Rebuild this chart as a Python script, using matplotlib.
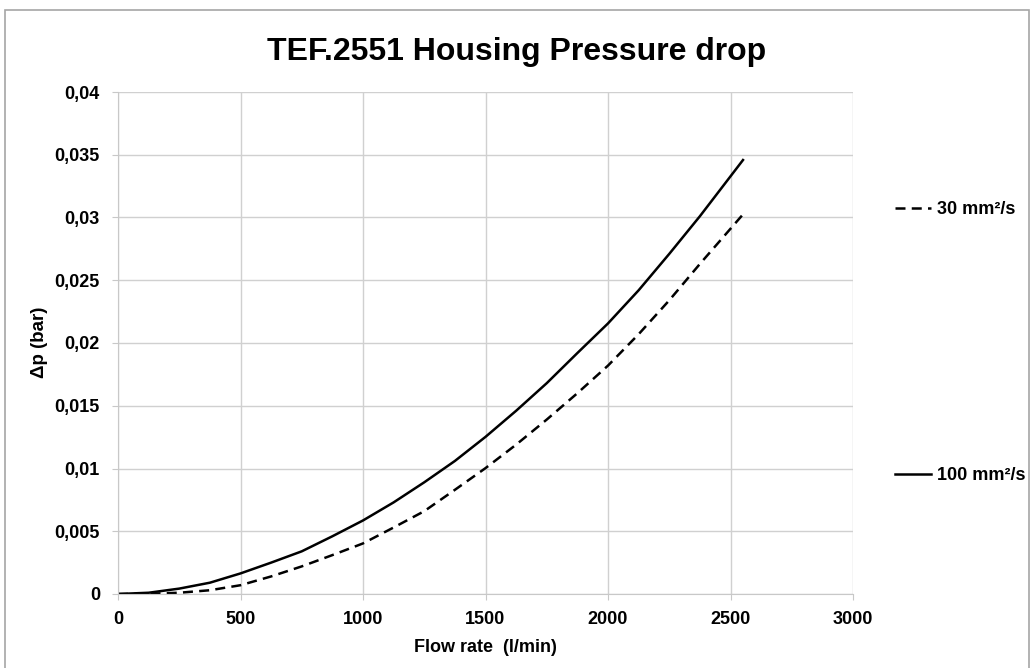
import matplotlib
matplotlib.use('Agg')
import matplotlib.pyplot as plt
from matplotlib.ticker import FuncFormatter, MultipleLocator
from matplotlib.patches import Rectangle

# data
flow = [0, 125, 250, 375, 500, 625, 750, 875, 1000, 1125, 1250, 1375, 1500,
        1625, 1750, 1875, 2000, 2125, 2250, 2375, 2551]
dp_100 = [0, 0.0001, 0.00043, 0.0009, 0.00164, 0.0025, 0.0034, 0.0046, 0.00586, 0.0073,
          0.0089, 0.0106, 0.01252, 0.0146, 0.0168, 0.0192, 0.02156, 0.0242, 0.0271,
          0.0301, 0.03458]
dp_30 = [0, 0.00002, 0.0001, 0.0003, 0.0007, 0.0014, 0.0022, 0.0031, 0.00403, 0.0053,
         0.0066, 0.0083, 0.01003, 0.0119, 0.0139, 0.016, 0.0182, 0.0207, 0.0234,
         0.0263, 0.03025]
lbl_30 = '30 mm²/s'
lbl_100 = '100 mm²/s'

plt.rcParams['font.family'] = ['Liberation Sans', 'DejaVu Sans']
plt.rcParams['font.weight'] = 'bold'

fig = plt.figure(figsize=(10.33, 6.68), dpi=100)
ax = fig.add_axes([118/1033, 1 - 594/668, (853 - 118)/1033, (594 - 92)/668])

# outer frame of the chart
fig.patches.append(Rectangle((5/1033, -0.01), 1024/1033, 1 - 10/668 + 0.01,
                             transform=fig.transFigure, fill=False,
                             edgecolor='#a6a6a6', linewidth=1.2))

l30, = ax.plot(flow, dp_30, color='black', lw=1.8, ls=(0, (4, 2.5)), label=lbl_30)
l100, = ax.plot(flow, dp_100, color='black', lw=1.8, label=lbl_100)

ax.set_xlim(0, 3000)
ax.set_ylim(0, 0.04)
ax.xaxis.set_major_locator(MultipleLocator(500))
ax.yaxis.set_major_locator(MultipleLocator(0.005))
ax.yaxis.set_major_formatter(FuncFormatter(lambda v, p: f"{v:g}".replace('.', ',')))

ax.grid(True, color='#d0d0d0', lw=1.0)
ax.set_axisbelow(True)
for s in ['top', 'right']:
    ax.spines[s].set_visible(False)
ax.spines['left'].set_color('#c8c8c8')
ax.spines['bottom'].set_color('#c8c8c8')
ax.tick_params(axis='both', colors='#c8c8c8', length=4.5, labelcolor='black', labelsize=13)
ax.tick_params(axis='x', pad=7.5)
ax.tick_params(axis='y', pad=8.5)
for t in ax.get_xticklabels() + ax.get_yticklabels():
    t.set_fontweight('bold')

ax.set_xlabel('Flow rate  (l/min)', fontsize=13, fontweight='bold')
ax.set_ylabel('Δp (bar)', fontsize=13.5, fontweight='bold')
ax.xaxis.set_label_coords(0.5, -(648 - 594)/502)
ax.yaxis.set_label_coords((39 - 118)/735, (594 - 342)/502)
ax.xaxis.label.set_va('center')
ax.yaxis.label.set_va('center')
fig.text(0.5, 1 - 60/668, 'TEF.2551 Housing Pressure drop', ha='center', va='baseline',
         fontsize=23, fontweight='bold')

fig.legend(handles=[l30, l100], loc='upper left', bbox_to_anchor=(879/1033, 1 - 185/668),
           frameon=False, labelspacing=13.8, handlelength=2.0, handletextpad=0.33,
           prop={'weight': 'bold', 'size': 13})

fig.savefig('out.png', dpi=100)
